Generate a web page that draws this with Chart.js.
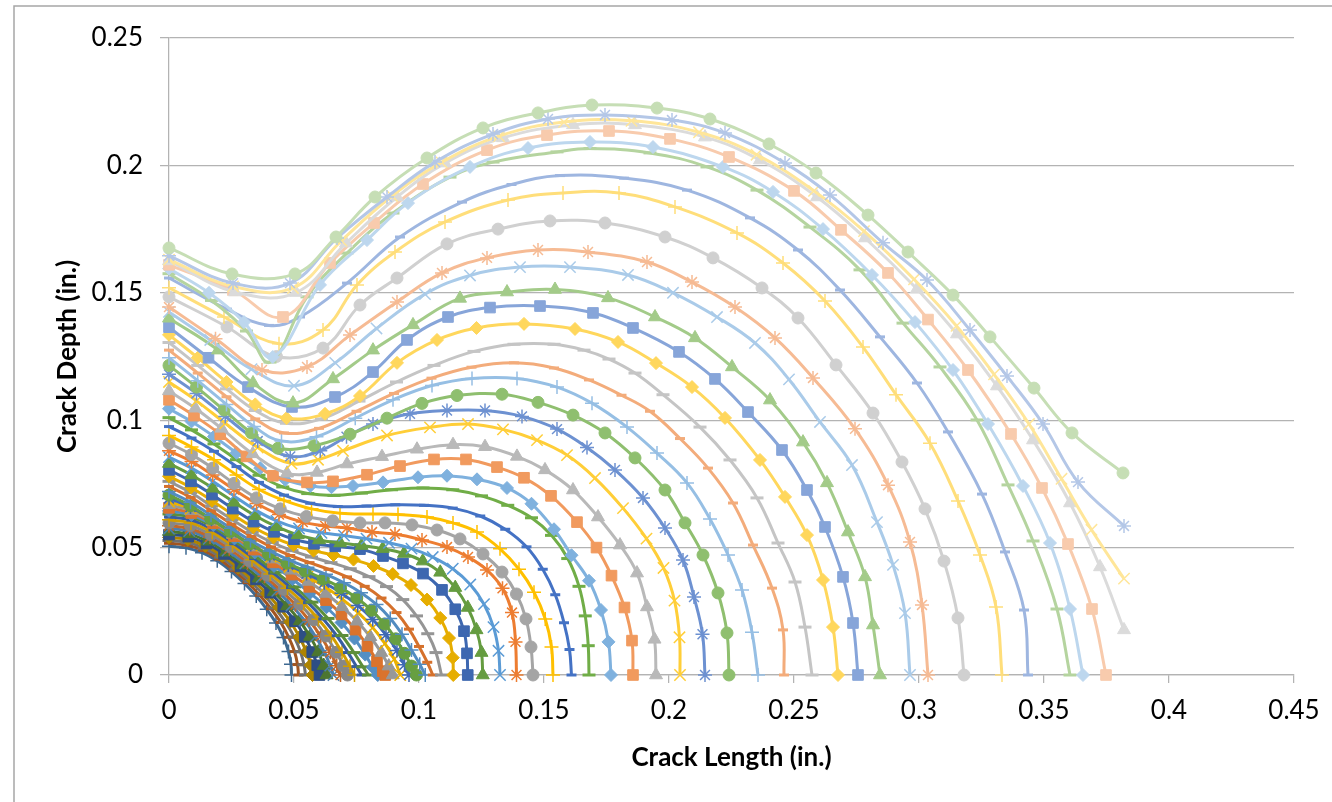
<!DOCTYPE html>
<html>
<head>
<meta charset="utf-8">
<script src="https://cdn.jsdelivr.net/npm/chart.js@4.4.1/dist/chart.umd.min.js"></script>
<style>
  html, body { margin: 0; background: #fff; }
  canvas { display: block; }
</style>
</head>
<body>
<canvas id="chartFronts" width="1332" height="802"></canvas>
<script>
// axis ticks
const xTicks = [0, 0.05, 0.1, 0.15, 0.2, 0.25, 0.3, 0.35, 0.4, 0.45];
const yTicks = [0, 0.05, 0.1, 0.15, 0.2, 0.25];

// crack fronts, [length, depth] in inches, smallest first
const front01 = [[0,.0505],[.0068,.0499],[.0132,.048],[.0193,.0448],[.025,.0406],[.0302,.0359],[.0349,.031],[.0391,.0258],[.0428,.0204],[.0458,.0147],[.0478,.0092],[.0488,.0042],[.049,0]];
const front02 = [[0,.0517],[.007,.051],[.0137,.0489],[.02,.0455],[.0259,.0411],[.0314,.0363],[.0363,.0313],[.0408,.026],[.0447,.0206],[.0479,.0148],[.0502,.0092],[.0514,.0041],[.0518,0]];
const front03 = [[0,.0528],[.0072,.0521],[.0141,.0498],[.0207,.0462],[.0268,.0416],[.0325,.0367],[.0377,.0317],[.0424,.0263],[.0466,.0207],[.0501,.0149],[.0526,.0091],[.054,.004],[.0546,0]];
const front04 = [[0,.054],[.0075,.0532],[.0146,.0507],[.0214,.0468],[.0277,.0421],[.0336,.0371],[.0391,.032],[.044,.0266],[.0485,.0209],[.0522,.0149],[.0549,.0091],[.0567,.0039],[.0574,0]];
const front05 = [[0,.0551],[.0077,.0543],[.015,.0516],[.022,.0475],[.0286,.0426],[.0348,.0375],[.0405,.0323],[.0457,.0268],[.0504,.0211],[.0543,.015],[.0573,.009],[.0593,.0038],[.0602,0]];
const front06 = [[0,.0563],[.0079,.0554],[.0155,.0525],[.0227,.0482],[.0296,.0432],[.0359,.038],[.0419,.0326],[.0473,.0271],[.0523,.0212],[.0564,.0151],[.0597,.009],[.0619,.0037],[.063,0]];
const front07 = [[0,.0574],[.0081,.0565],[.0159,.0534],[.0234,.0488],[.0305,.0437],[.0371,.0384],[.0433,.033],[.049,.0273],[.0542,.0214],[.0586,.0151],[.0621,.009],[.0645,.0037],[.0658,0]];
const front08 = [[0,.0586],[.0083,.0575],[.0164,.0542],[.0241,.0495],[.0314,.0442],[.0382,.0388],[.0446,.0333],[.0506,.0276],[.056,.0216],[.0607,.0152],[.0645,.0089],[.0671,.0036],[.0686,0]];
const front09 = [[0,.0597],[.0086,.0586],[.0168,.0551],[.0248,.0502],[.0323,.0447],[.0394,.0392],[.046,.0336],[.0523,.0278],[.0579,.0217],[.0628,.0153],[.0669,.0089],[.0698,.0035],[.0714,0]];
const front10 = [[0,.0609],[.0088,.0597],[.0173,.056],[.0254,.0509],[.0332,.0452],[.0405,.0396],[.0474,.034],[.0539,.0281],[.0598,.0219],[.065,.0154],[.0692,.0089],[.0724,.0034],[.0742,0]];
const front11 = [[0,.0621],[.009,.0608],[.0178,.0569],[.0261,.0515],[.0341,.0457],[.0417,.04],[.0488,.0343],[.0556,.0284],[.0617,.022],[.0671,.0154],[.0716,.0088],[.075,.0033],[.077,0]];
const front12 = [[0,.0632],[.0092,.0619],[.0182,.0578],[.0268,.0522],[.035,.0462],[.0428,.0404],[.0502,.0346],[.0572,.0286],[.0636,.0222],[.0692,.0155],[.074,.0088],[.0776,.0032],[.0798,0]];
const front13 = [[0,.0644],[.009,.0628],[.0178,.0588],[.0262,.0536],[.0343,.0481],[.042,.0428],[.0494,.0376],[.0564,.0322],[.063,.0266],[.069,.0206],[.0742,.0143],[.0785,.008],[.0815,.003],[.0835,0]];
const front14 = [[0,.0656],[.0089,.0636],[.0176,.0596],[.0259,.0545],[.0339,.0492],[.0416,.0442],[.049,.0394],[.0561,.0346],[.0628,.0294],[.069,.0238],[.0746,.0178],[.0794,.0114],[.0832,.0054],[.0855,.0015],[.0865,0]];
const front15 = [[0,.0668],[.0088,.0645],[.0174,.0603],[.0256,.0553],[.0335,.0502],[.0412,.0455],[.0486,.0411],[.0558,.0367],[.0627,.032],[.0692,.0268],[.0752,.0211],[.0805,.015],[.0849,.0088],[.0879,.0035],[.0895,0]];
const front16 = [[0,.068],[.0087,.0653],[.0172,.0608],[.0253,.0558],[.0331,.0508],[.0407,.0464],[.0481,.0424],[.0554,.0386],[.0625,.0345],[.0693,.0298],[.0757,.0245],[.0815,.0186],[.0864,.0123],[.0901,.0062],[.0925,0]];
const front17 = [[0,.0693],[.0086,.0659],[.017,.0611],[.025,.056],[.0327,.0512],[.0403,.0469],[.0477,.0432],[.055,.0398],[.0621,.0362],[.069,.0321],[.0755,.0273],[.0815,.0218],[.0868,.0158],[.0912,.0096],[.0942,.004],[.096,0]];
const front18 = [[0,.0706],[.0086,.0664],[.0167,.0613],[.0246,.0563],[.0323,.0515],[.0398,.0474],[.0472,.0439],[.0545,.0408],[.0617,.0377],[.0686,.0343],[.0751,.0302],[.081,.0254],[.0862,.02],[.0907,.0142],[.0942,.0085],[.097,.0035],[.099,0]];
const front19 = [[0,.072],[.0086,.0678],[.0168,.0627],[.0248,.0576],[.0326,.0528],[.0403,.0487],[.0479,.0452],[.0554,.0423],[.0628,.0395],[.07,.0362],[.0768,.0323],[.083,.0277],[.0885,.0222],[.0932,.016],[.097,.0098],[.1003,.0042],[.1025,0]];
const front20 = [[0,.074],[.0087,.0697],[.0169,.0645],[.025,.0592],[.033,.0544],[.0408,.0503],[.0485,.0469],[.0562,.0441],[.0638,.0415],[.0712,.0385],[.0783,.0348],[.085,.0302],[.091,.0245],[.096,.018],[.1,.0112],[.1033,.005],[.1055,0]];
const front21 = [[0,.076],[.0087,.0716],[.017,.0663],[.0252,.061],[.0333,.056],[.0413,.052],[.0492,.0488],[.057,.0463],[.0648,.0441],[.0725,.0417],[.08,.0386],[.087,.0347],[.0935,.0296],[.099,.0232],[.1035,.0162],[.1068,.0088],[.109,0]];
const front22 = [[0,.078],[.0088,.0736],[.0172,.0684],[.0255,.063],[.0337,.058],[.0418,.054],[.0498,.051],[.0578,.0488],[.0658,.0471],[.0738,.0453],[.0818,.0428],[.0895,.0396],[.0968,.0353],[.1032,.0296],[.1085,.0224],[.112,.0145],[.1135,.0068],[.1137,0]];
const front23 = [[0,.0805],[.0088,.076],[.0172,.0708],[.0255,.0653],[.0338,.0602],[.042,.0562],[.05,.0533],[.058,.0515],[.0665,.0505],[.0764,.0494],[.0856,.0467],[.0936,.0438],[.1016,.0398],[.1092,.0334],[.1145,.0258],[.118,.0172],[.1192,.0085],[.1195,0]];
const front24 = [[0,.083],[.009,.0785],[.0175,.0733],[.026,.0678],[.0345,.0625],[.043,.0582],[.0515,.055],[.06,.053],[.0685,.0518],[.077,.0508],[.0855,.0496],[.094,.0477],[.1015,.0447],[.1085,.0403],[.1145,.0343],[.1195,.0265],[.123,.0177],[.125,.0088],[.1255,0]];
const front25 = [[0,.0855],[.009,.0812],[.0175,.076],[.026,.0703],[.0345,.0648],[.043,.0605],[.052,.0575],[.061,.0558],[.07,.0547],[.079,.0535],[.088,.0519],[.097,.0496],[.1055,.0463],[.1135,.0417],[.1205,.0355],[.126,.0278],[.1298,.0188],[.1318,.0095],[.1324,0]];
const front26 = [[0,.088],[.009,.0838],[.0175,.0785],[.026,.0728],[.035,.0673],[.044,.063],[.0535,.06],[.0625,.0585],[.0712,.0577],[.0812,.0561],[.0904,.0553],[.1012,.053],[.1112,.0502],[.1196,.0463],[.1272,.0412],[.1334,.034],[.1372,.0245],[.1386,.013],[.139,0]];
const front27 = [[0,.091],[.009,.0865],[.0175,.0812],[.026,.0752],[.035,.0695],[.0445,.0652],[.055,.0622],[.0655,.0605],[.0764,.0597],[.0864,.0597],[.0972,.0589],[.1072,.0569],[.1164,.0534],[.1256,.0475],[.1332,.0404],[.139,.0318],[.1428,.022],[.1448,.011],[.1456,0]];
const front28 = [[0,.094],[.009,.0895],[.018,.0845],[.027,.0785],[.036,.0728],[.046,.0685],[.057,.0652],[.0684,.0635],[.0816,.0632],[.0916,.063],[.1032,.062],[.1136,.0597],[.1232,.0561],[.1324,.0495],[.14,.0415],[.146,.0325],[.1505,.022],[.153,.011],[.1536,0]];
const front29 = [[0,.0975],[.009,.093],[.018,.0878],[.027,.0818],[.036,.0756],[.046,.0706],[.0565,.0674],[.0675,.0661],[.079,.0663],[.0905,.0668],[.102,.0666],[.1135,.0655],[.1245,.0624],[.1345,.0572],[.143,.0503],[.1495,.0415],[.1545,.0315],[.158,.0205],[.1602,.01],[.161,0]];
const front30 = [[0,.101],[.009,.0962],[.018,.0907],[.027,.0845],[.036,.0784],[.0455,.0738],[.0555,.0712],[.066,.0705],[.077,.0714],[.089,.0727],[.1016,.0734],[.1135,.0727],[.125,.0703],[.1355,.0666],[.145,.0617],[.153,.0548],[.1595,.0457],[.164,.0348],[.1665,.0232],[.1677,.0115],[.168,0]];
const front31 = [[0,.1045],[.009,.0995],[.018,.0936],[.027,.0872],[.0365,.0812],[.0465,.0766],[.0565,.0742],[.065,.0737],[.0736,.0742],[.0856,.0756],[.0996,.0776],[.1112,.0782],[.1232,.0768],[.1352,.0734],[.145,.0672],[.154,.0572],[.161,.047],[.168,.037],[.1728,.0255],[.1758,.013],[.1768,0]];
const front32 = [[0,.108],[.01,.1018],[.0205,.0945],[.031,.0858],[.0416,.0782],[.0552,.0756],[.0656,.076],[.0792,.0786],[.0924,.082],[.106,.0846],[.1188,.0846],[.1312,.0816],[.142,.0774],[.1528,.0703],[.1632,.06],[.171,.05],[.177,.039],[.1822,.0265],[.1852,.0135],[.1856,0]];
const front33 = [[0,.1115],[.0105,.1047],[.021,.0968],[.0335,.0868],[.0472,.0792],[.0592,.0795],[.0712,.0828],[.0852,.0857],[.0992,.0886],[.1136,.0904],[.1264,.0896],[.1392,.0858],[.1504,.0805],[.1616,.0726],[.1716,.062],[.1804,.051],[.1872,.04],[.1912,.0267],[.1942,.014],[.1948,0]];
const front34 = [[0,.115],[.011,.1076],[.0225,.0988],[.0355,.0893],[.049,.083],[.0596,.0845],[.0696,.088],[.0872,.094],[.1044,.0972],[.1196,.0985],[.1336,.0964],[.1472,.0922],[.1592,.0863],[.1704,.0773],[.1816,.0655],[.191,.0535],[.1978,.042],[.2022,.0292],[.2042,.0148],[.2044,0]];
const front35 = [[0,.118],[.011,.1105],[.0225,.1015],[.0355,.0918],[.0485,.0858],[.0605,.088],[.071,.0935],[.0816,.0985],[.0964,.1025],[.1112,.1038],[.1264,.1038],[.1412,.1015],[.1552,.0965],[.1672,.0893],[.1784,.0805],[.1896,.0695],[.1984,.0577],[.2056,.0451],[.21,.0306],[.2134,.016],[.2144,0]];
const front36 = [[0,.1215],[.011,.113],[.022,.104],[.033,.095],[.0436,.089],[.058,.09],[.0724,.0945],[.0872,.1008],[.1012,.1066],[.1152,.1097],[.1332,.1102],[.1476,.107],[.1616,.102],[.1744,.095],[.1864,.0852],[.1984,.0726],[.2064,.0597],[.2136,.0471],[.2196,.0322],[.2232,.0165],[.224,0]];
const front37 = [[0,.1245],[.0115,.1155],[.023,.1062],[.034,.0975],[.045,.0918],[.059,.0935],[.0745,.1008],[.0896,.108],[.1052,.1136],[.1212,.1164],[.1392,.1164],[.1552,.113],[.1692,.1067],[.1832,.0973],[.1952,.0871],[.2072,.0754],[.2164,.0612],[.2236,.0471],[.2292,.0334],[.2332,.0168],[.2356,0]];
const front38 = [[0,.1275],[.0115,.1185],[.023,.1092],[.0345,.1005],[.046,.095],[.06,.0968],[.075,.1035],[.09,.1105],[.105,.1165],[.121,.1208],[.138,.1225],[.154,.1205],[.168,.1158],[.181,.1098],[.1924,.1035],[.2044,.0928],[.2156,.0812],[.2256,.0675],[.2336,.051],[.2412,.0341],[.2456,.0177],[.246,0]];
const front39 = [[0,.1305],[.0115,.1215],[.023,.1123],[.0345,.1038],[.047,.0988],[.061,.1005],[.076,.1075],[.091,.115],[.106,.1215],[.122,.127],[.138,.1298],[.154,.1298],[.166,.1275],[.176,.124],[.1864,.1185],[.1976,.11],[.2124,.0973],[.2244,.0844],[.2352,.0695],[.2436,.0518],[.2504,.0365],[.2544,.0188],[.2572,0]];
const front40 = [[0,.1335],[.0115,.1245],[.023,.115],[.0345,.1062],[.047,.1008],[.0624,.1025],[.0764,.1095],[.0912,.1225],[.1072,.1315],[.123,.1362],[.142,.1378],[.1624,.1358],[.1796,.1307],[.1948,.1224],[.2092,.113],[.2224,.1009],[.2364,.0844],[.2464,.0699],[.2552,.0549],[.2616,.0373],[.2656,.0188],[.2676,0]];
const front41 = [[0,.1365],[.0158,.1245],[.0316,.113],[.0492,.1052],[.0664,.1091],[.0816,.1189],[.0952,.1315],[.1116,.1405],[.1284,.1442],[.1484,.1448],[.1696,.1421],[.1856,.1362],[.204,.1268],[.2184,.1162],[.2316,.1032],[.2452,.0883],[.2552,.0726],[.2624,.0581],[.2696,.0385],[.2736,.0204],[.2756,0]];
const front42 = [[0,.14],[.0196,.1275],[.0336,.1146],[.0496,.1067],[.0656,.1162],[.0816,.1275],[.0976,.1374],[.1164,.1478],[.1352,.1503],[.1544,.1513],[.1756,.148],[.1944,.1405],[.2104,.1323],[.2252,.1209],[.2404,.1079],[.2536,.0914],[.2632,.0754],[.2716,.0561],[.2784,.0385],[.2816,.0196],[.2844,0]];
const front43 = [[0,.1425],[.0165,.1315],[.033,.12],[.05,.1135],[.0665,.1225],[.083,.136],[.1024,.1495],[.1204,.1568],[.1404,.1601],[.1604,.1601],[.1836,.157],[.2016,.15],[.2192,.1405],[.2344,.1303],[.248,.116],[.2604,.0993],[.2732,.0824],[.2832,.06],[.2896,.0432],[.2944,.0243],[.2964,0]];
const front44 = [[0,.1444],[.0186,.132],[.0372,.1197],[.0552,.1209],[.0724,.1334],[.0912,.1464],[.1092,.1578],[.1272,.1637],[.1476,.1668],[.1676,.166],[.1912,.1621],[.2092,.1542],[.2264,.1444],[.2424,.1323],[.2576,.1166],[.2744,.0966],[.2876,.0745],[.2964,.0522],[.3012,.0275],[.3036,0]];
const front45 = [[0,.1484],[.0232,.1366],[.043,.125],[.0616,.1283],[.0764,.1452],[.0912,.1558],[.1112,.1692],[.1316,.175],[.1524,.1782],[.1744,.1774],[.1984,.1719],[.2176,.1637],[.2372,.1519],[.2516,.1401],[.2668,.1217],[.2816,.1028],[.2932,.0836],[.3024,.0652],[.31,.0447],[.3156,.0224],[.318,0]];
const front46 = [[0,.152],[.022,.1405],[.044,.13],[.0616,.1354],[.0752,.1531],[.0904,.166],[.1104,.1778],[.1356,.1864],[.1576,.1892],[.18,.1892],[.2024,.1837],[.2272,.1735],[.2456,.1617],[.2624,.1468],[.2776,.1287],[.2908,.11],[.3044,.091],[.3156,.0683],[.3244,.0471],[.3308,.0267],[.3332,0]];
const front47 = [[0,.1558],[.0232,.1436],[.04,.1372],[.0524,.1405],[.0712,.1538],[.0924,.1719],[.1172,.1856],[.137,.1925],[.1564,.196],[.182,.195],[.2072,.1903],[.2324,.1794],[.2516,.1668],[.2684,.1511],[.2844,.1327],[.2992,.1146],[.3116,.0954],[.3252,.071],[.3344,.0483],[.342,.0255],[.3436,0]];
const front48 = [[0,.1575],[.017,.147],[.031,.135],[.0404,.1228],[.0552,.1484],[.0712,.1656],[.0896,.1813],[.1124,.1954],[.1296,.2013],[.1552,.2053],[.1684,.2066],[.1924,.2049],[.2152,.1994],[.2352,.1903],[.2564,.1758],[.2764,.159],[.2936,.1381],[.3084,.1209],[.3232,.1001],[.3356,.0746],[.3456,.0526],[.3552,.0259],[.3604,0]];
const front49 = [[0,.1595],[.016,.15],[.03,.1385],[.0415,.1248],[.0604,.1531],[.0792,.1707],[.0956,.1852],[.1204,.1994],[.1436,.2068],[.1684,.2092],[.1936,.2072],[.2216,.1994],[.2416,.1896],[.2616,.175],[.2812,.157],[.2984,.1385],[.3136,.1197],[.3276,.0985],[.3416,.0742],[.3524,.0518],[.3604,.0259],[.3656,0]];
const front50 = [[0,.161],[.0256,.151],[.0456,.1405],[.0644,.1617],[.082,.1774],[.1016,.1927],[.1272,.206],[.1512,.2119],[.176,.2135],[.2004,.2104],[.224,.2033],[.25,.19],[.2688,.1747],[.2876,.1578],[.3036,.1395],[.3196,.1197],[.3368,.0946],[.3492,.0734],[.3596,.0514],[.3692,.0259],[.3748,0]];
const front51 = [[0,.1625],[.0264,.1503],[.0508,.1501],[.0708,.1695],[.0912,.1876],[.1104,.2009],[.1336,.2108],[.1616,.2159],[.1864,.2159],[.2144,.2111],[.2364,.2021],[.2592,.1876],[.2784,.1715],[.2992,.1515],[.3152,.1338],[.3312,.1134],[.3456,.0922],[.3604,.0675],[.3724,.0424],[.382,.0177]];
const front52 = [[0,.163],[.0256,.1525],[.0496,.1519],[.069,.1705],[.0892,.188],[.109,.2012],[.132,.2115],[.158,.217],[.185,.2175],[.212,.213],[.235,.2042],[.258,.19],[.278,.1742],[.298,.1553],[.315,.137],[.33,.118],[.344,.0985],[.357,.077],[.369,.057],[.382,.0378]];
const front53 = [[0,.1645],[.0256,.1538],[.0484,.1538],[.0672,.1715],[.0872,.1876],[.1064,.2013],[.1296,.2123],[.1516,.2182],[.1744,.2198],[.2012,.2178],[.2224,.2127],[.2464,.2009],[.2644,.1884],[.2856,.1696],[.3032,.155],[.3204,.1354],[.3352,.1173],[.3496,.0985],[.3636,.0757],[.382,.0585]];
const front54 = [[0,.1676],[.0252,.1574],[.0504,.1574],[.0668,.1719],[.0824,.1876],[.1032,.2029],[.1256,.2147],[.1476,.2206],[.1692,.2237],[.1952,.2225],[.2164,.2182],[.24,.2084],[.2588,.197],[.2796,.1805],[.2956,.166],[.3136,.1491],[.3284,.1327],[.346,.1126],[.3612,.095],[.3816,.0793]];

const fronts = [
  front01, front02, front03, front04, front05, front06, front07, front08, front09,
  front10, front11, front12, front13, front14, front15, front16, front17, front18,
  front19, front20, front21, front22, front23, front24, front25, front26, front27,
  front28, front29, front30, front31, front32, front33, front34, front35, front36,
  front37, front38, front39, front40, front41, front42, front43, front44, front45,
  front46, front47, front48, front49, front50, front51, front52, front53, front54
];

// Office colour / marker cycle
const palette = ["#5B9BD5", "#ED7D31", "#A5A5A5", "#FFC000", "#4472C4", "#70AD47"];
const groupShade = [0, -0.32, -0.18, -0.08, -0.1, 0, 0.22, 0.36, 0.48, 0.6];
const markerCycle = ["diamond", "square", "triangle", "x", "star", "circle", "plus", "dash", "longDash"];
const markerLook = {
  diamond:  { style: "rectRot",  r: 6.5, bw: 1 },
  square:   { style: "rect",     r: 7.5, bw: 1 },
  triangle: { style: "triangle", r: 7.5, bw: 1 },
  x:        { style: "crossRot", r: 8,   bw: 1.5 },
  star:     { style: "star",     r: 7,   bw: 1.5 },
  circle:   { style: "circle",   r: 6,   bw: 1 },
  plus:     { style: "cross",    r: 7,   bw: 1.5 },
  dash:     { style: "line",     r: 5,   bw: 3 },
  longDash: { style: "line",     r: 6.5, bw: 3 },
};
const gridGray = "#b3b3b3";
const fontFamily = "Lato, 'Open Sans', sans-serif";

function shade(hex, f) {
  const n = parseInt(hex.slice(1), 16);
  const ch = [n >> 16, (n >> 8) & 255, n & 255].map(c =>
    Math.round(f < 0 ? c * (1 + f) : c + (255 - c) * f));
  return `rgb(${ch.join(",")})`;
}

const datasets = fronts.map((pts, s) => {
  const k = s + 6; // slot in the colour/marker cycle
  const color = shade(palette[k % 6], groupShade[Math.floor(k / 6)]);
  const m = markerLook[markerCycle[k % 9]];
  return {
    data: pts.map(([x, y]) => ({ x, y })),
    showLine: true,
    tension: 0.4,
    borderColor: color,
    borderWidth: 3,
    pointStyle: m.style,
    pointRadius: m.r,
    pointBorderWidth: m.bw,
    pointBackgroundColor: color,
    pointBorderColor: color,
    clip: false,
    order: fronts.length - s
  };
});

// thin frame at the top and left edge of the picture
const frame = {
  id: "frame",
  afterDraw(chart) {
    const ctx = chart.ctx;
    ctx.save();
    ctx.strokeStyle = "#a6a6a6";
    ctx.lineWidth = 1.5;
    ctx.beginPath();
    ctx.moveTo(14, 802);
    ctx.lineTo(14, 6);
    ctx.lineTo(1332, 6);
    ctx.stroke();
    ctx.restore();
  }
};

const fmt = v => String(+Number(v).toFixed(2));

new Chart(document.getElementById("chartFronts"), {
  type: "scatter",
  data: { datasets },
  options: {
    responsive: false,
    animation: false,
    devicePixelRatio: 1,
    events: [],
    layout: { padding: { left: 48, right: 38, top: 38, bottom: 25 } },
    plugins: { legend: { display: false }, tooltip: { enabled: false } },
    scales: {
      x: {
        type: "linear", min: 0, max: 0.45,
        afterBuildTicks: s => { s.ticks = xTicks.map(v => ({ value: v })); },
        afterFit: s => { s.height = 102; },
        grid: { drawOnChartArea: false, drawTicks: true, tickLength: 8, color: gridGray, lineWidth: 1.25 },
        border: { display: true, color: gridGray, width: 1.25 },
        ticks: { color: "#000", font: { family: fontFamily, size: 26 }, padding: 12, maxRotation: 0, autoSkip: false, callback: fmt },
        title: { display: true, text: "Crack Length (in.)", color: "#000", font: { family: fontFamily, size: 26, weight: "bold" } }
      },
      y: {
        type: "linear", min: 0, max: 0.25,
        afterBuildTicks: s => { s.ticks = yTicks.map(v => ({ value: v })); },
        afterFit: s => { s.width = 121; },
        grid: { color: gridGray, lineWidth: 1.25, tickLength: 9 },
        border: { display: true, color: gridGray, width: 1.25 },
        ticks: { color: "#000", font: { family: fontFamily, size: 26 }, padding: 17, callback: fmt },
        title: { display: true, text: "Crack Depth (in.)", color: "#000", font: { family: fontFamily, size: 26, weight: "bold" } }
      }
    }
  },
  plugins: [frame]
});
</script>
</body>
</html>
